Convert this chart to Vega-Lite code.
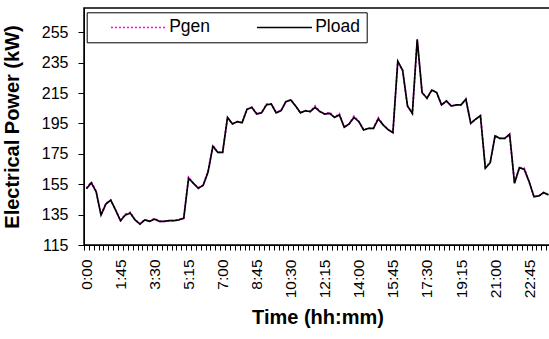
{
  "$schema": "https://vega.github.io/schema/vega-lite/v6.json",
  "width": 467,
  "height": 237,
  "autosize": "none",
  "padding": {"left": 84, "top": 8, "right": 0, "bottom": 94},
  "background": "white",
  "config": {"font": "Liberation Sans", "view": {"stroke": "black", "strokeWidth": 1.5}},
  "data": {"values": [
    {"t":"0:00","Pgen":152.4,"Pload":152},{"t":"0:15","Pgen":156.5,"Pload":156},{"t":"0:30","Pgen":150.5,"Pload":150},{"t":"0:45","Pgen":134.7,"Pload":134.7},
    {"t":"1:00","Pgen":142.5,"Pload":142},{"t":"1:15","Pgen":144.5,"Pload":144.5},{"t":"1:30","Pgen":138,"Pload":138},{"t":"1:45","Pgen":131,"Pload":131},
    {"t":"2:00","Pgen":135.4,"Pload":134.7},{"t":"2:15","Pgen":136.5,"Pload":136},{"t":"2:30","Pgen":131.5,"Pload":131.5},{"t":"2:45","Pgen":128.8,"Pload":128.8},
    {"t":"3:00","Pgen":131.8,"Pload":131.5},{"t":"3:15","Pgen":130.6,"Pload":130.6},{"t":"3:30","Pgen":132.5,"Pload":132},{"t":"3:45","Pgen":130.6,"Pload":130.6},
    {"t":"4:00","Pgen":130.6,"Pload":130.6},{"t":"4:15","Pgen":131,"Pload":131},{"t":"4:30","Pgen":131,"Pload":131},{"t":"4:45","Pgen":131.8,"Pload":131.5},
    {"t":"5:00","Pgen":132.6,"Pload":132.6},{"t":"5:15","Pgen":159.6,"Pload":158.9},{"t":"5:30","Pgen":155.6,"Pload":155.6},{"t":"5:45","Pgen":152.8,"Pload":152.3},
    {"t":"6:00","Pgen":154.3,"Pload":154.3},{"t":"6:15","Pgen":163.8,"Pload":163},{"t":"6:30","Pgen":180.7,"Pload":180},{"t":"6:45","Pgen":176,"Pload":176},
    {"t":"7:00","Pgen":176,"Pload":176},{"t":"7:15","Pgen":199,"Pload":199},{"t":"7:30","Pgen":194.7,"Pload":194.7},{"t":"7:45","Pgen":196.2,"Pload":196.2},
    {"t":"8:00","Pgen":195.5,"Pload":195.5},{"t":"8:15","Pgen":204.3,"Pload":204.3},{"t":"8:30","Pgen":205.6,"Pload":205.6},{"t":"8:45","Pgen":201.8,"Pload":201.2},
    {"t":"9:00","Pgen":202,"Pload":202},{"t":"9:15","Pgen":207.8,"Pload":207.2},{"t":"9:30","Pgen":207.8,"Pload":207.8},{"t":"9:45","Pgen":202.5,"Pload":202},
    {"t":"10:00","Pgen":203.4,"Pload":203.4},{"t":"10:15","Pgen":209.3,"Pload":209.3},{"t":"10:30","Pgen":210.5,"Pload":210.5},{"t":"10:45","Pgen":206.5,"Pload":206.5},
    {"t":"11:00","Pgen":202,"Pload":202},{"t":"11:15","Pgen":203.4,"Pload":203.4},{"t":"11:30","Pgen":202.8,"Pload":202.8},{"t":"11:45","Pgen":206.6,"Pload":205.6},
    {"t":"12:00","Pgen":202.8,"Pload":202.8},{"t":"12:15","Pgen":201.2,"Pload":201.2},{"t":"12:30","Pgen":202.4,"Pload":201.6},{"t":"12:45","Pgen":199,"Pload":199},
    {"t":"13:00","Pgen":201.4,"Pload":200.6},{"t":"13:15","Pgen":192.5,"Pload":192.5},{"t":"13:30","Pgen":194.7,"Pload":194.7},{"t":"13:45","Pgen":199.8,"Pload":199},
    {"t":"14:00","Pgen":196.2,"Pload":196.2},{"t":"14:15","Pgen":190.7,"Pload":190.7},{"t":"14:30","Pgen":191.8,"Pload":191.8},{"t":"14:45","Pgen":191.8,"Pload":191.8},
    {"t":"15:00","Pgen":198.8,"Pload":198},{"t":"15:15","Pgen":194,"Pload":194},{"t":"15:30","Pgen":191,"Pload":191},{"t":"15:45","Pgen":189,"Pload":189},
    {"t":"16:00","Pgen":235,"Pload":236},{"t":"16:15","Pgen":230,"Pload":230},{"t":"16:30","Pgen":206.5,"Pload":206.5},{"t":"16:45","Pgen":201.6,"Pload":201.6},
    {"t":"17:00","Pgen":249.4,"Pload":250.4},{"t":"17:15","Pgen":215.3,"Pload":215.3},{"t":"17:30","Pgen":211.6,"Pload":211.6},{"t":"17:45","Pgen":217,"Pload":217},
    {"t":"18:00","Pgen":215.3,"Pload":215.3},{"t":"18:15","Pgen":207.2,"Pload":207.2},{"t":"18:30","Pgen":209.8,"Pload":209.8},{"t":"18:45","Pgen":206.5,"Pload":206.5},
    {"t":"19:00","Pgen":207.2,"Pload":207.2},{"t":"19:15","Pgen":207.2,"Pload":207.2},{"t":"19:30","Pgen":211,"Pload":211},{"t":"19:45","Pgen":195.1,"Pload":195.1},
    {"t":"20:00","Pgen":197.8,"Pload":197.8},{"t":"20:15","Pgen":200.1,"Pload":200.1},{"t":"20:30","Pgen":166.3,"Pload":165.5},{"t":"20:45","Pgen":169.2,"Pload":169.2},
    {"t":"21:00","Pgen":186.8,"Pload":186.8},{"t":"21:15","Pgen":185.2,"Pload":185.2},{"t":"21:30","Pgen":185.2,"Pload":185.2},{"t":"21:45","Pgen":187.2,"Pload":188},
    {"t":"22:00","Pgen":155.6,"Pload":155.6},{"t":"22:15","Pgen":165.9,"Pload":165.9},{"t":"22:30","Pgen":165.6,"Pload":164.8},{"t":"22:45","Pgen":156.7,"Pload":156.7},
    {"t":"23:00","Pgen":146.8,"Pload":146.8},{"t":"23:15","Pgen":147.3,"Pload":147.3},{"t":"23:30","Pgen":149.5,"Pload":149.5},{"t":"23:45","Pgen":148,"Pload":148}
  ]},
  "transform": [{"fold": ["Pgen", "Pload"], "as": ["series", "power"]}],
  "mark": {"type": "line", "strokeWidth": 1.7},
  "encoding": {
    "x": {
      "field": "t", "type": "ordinal", "sort": null, "bandPosition": 0.5,
      "scale": {"type": "band", "paddingInner": 0, "paddingOuter": 0},
      "axis": {
        "title": "Time (hh:mm)", "tickBand": "extent", "labelAngle": -90, "labelAlign": "right", "labelBaseline": "middle",
        "labelExpr": "indexof(['0:00','1:45','3:30','5:15','7:00','8:45','10:30','12:15','14:00','15:45','17:30','19:15','21:00','22:45'], datum.value) >= 0 ? datum.value : ''",
        "labelOverlap": false, "labelFontSize": 15.5, "labelColor": "black", "labelPadding": 9,
        "tickSize": 5, "tickColor": "black", "domainColor": "black", "grid": false,
        "titleFontSize": 20, "titleFontWeight": "bold", "titleColor": "black", "titlePadding": 10
      }
    },
    "y": {
      "field": "power", "type": "quantitative",
      "scale": {"domain": [115, 271], "nice": false, "zero": false},
      "axis": {
        "title": "Electrical Power (kW)", "values": [115, 135, 155, 175, 195, 215, 235, 255], "grid": false,
        "labelFontSize": 16, "labelColor": "black", "labelPadding": 10, "tickSize": 6, "tickColor": "black", "domainColor": "black",
        "titleFontSize": 20, "titleFontWeight": "bold", "titleColor": "black", "titlePadding": 19
      }
    },
    "color": {
      "field": "series", "type": "nominal",
      "scale": {"domain": ["Pgen", "Pload"], "range": ["#ff00ff", "#000000"]},
      "legend": {
        "orient": "none", "legendX": 2.7, "legendY": 4.3, "direction": "horizontal", "title": null,
        "strokeColor": "black", "fillColor": "white", "padding": 6,
        "symbolType": "M-5,0H5", "symbolSize": 121, "symbolStrokeWidth": 1.6, "symbolOffset": 37,
        "labelOffset": 22, "columnPadding": 28, "labelFontSize": 17.5, "labelColor": "black",
        "labelExpr": "datum.label == 'Pload' ? datum.label + '\u00a0\u00a0\u00a0' : datum.label"
      }
    },
    "strokeDash": {
      "field": "series", "type": "nominal",
      "scale": {"domain": ["Pgen", "Pload"], "range": [[2, 2], [1, 0]]},
      "legend": {
        "orient": "none", "legendX": 2.7, "legendY": 4.3, "direction": "horizontal", "title": null,
        "strokeColor": "black", "fillColor": "white", "padding": 6,
        "symbolType": "M-5,0H5", "symbolSize": 121, "symbolStrokeWidth": 1.6, "symbolOffset": 37,
        "labelOffset": 22, "columnPadding": 28, "labelFontSize": 17.5, "labelColor": "black",
        "labelExpr": "datum.label == 'Pload' ? datum.label + '\u00a0\u00a0\u00a0' : datum.label"
      }
    }
  }
}
